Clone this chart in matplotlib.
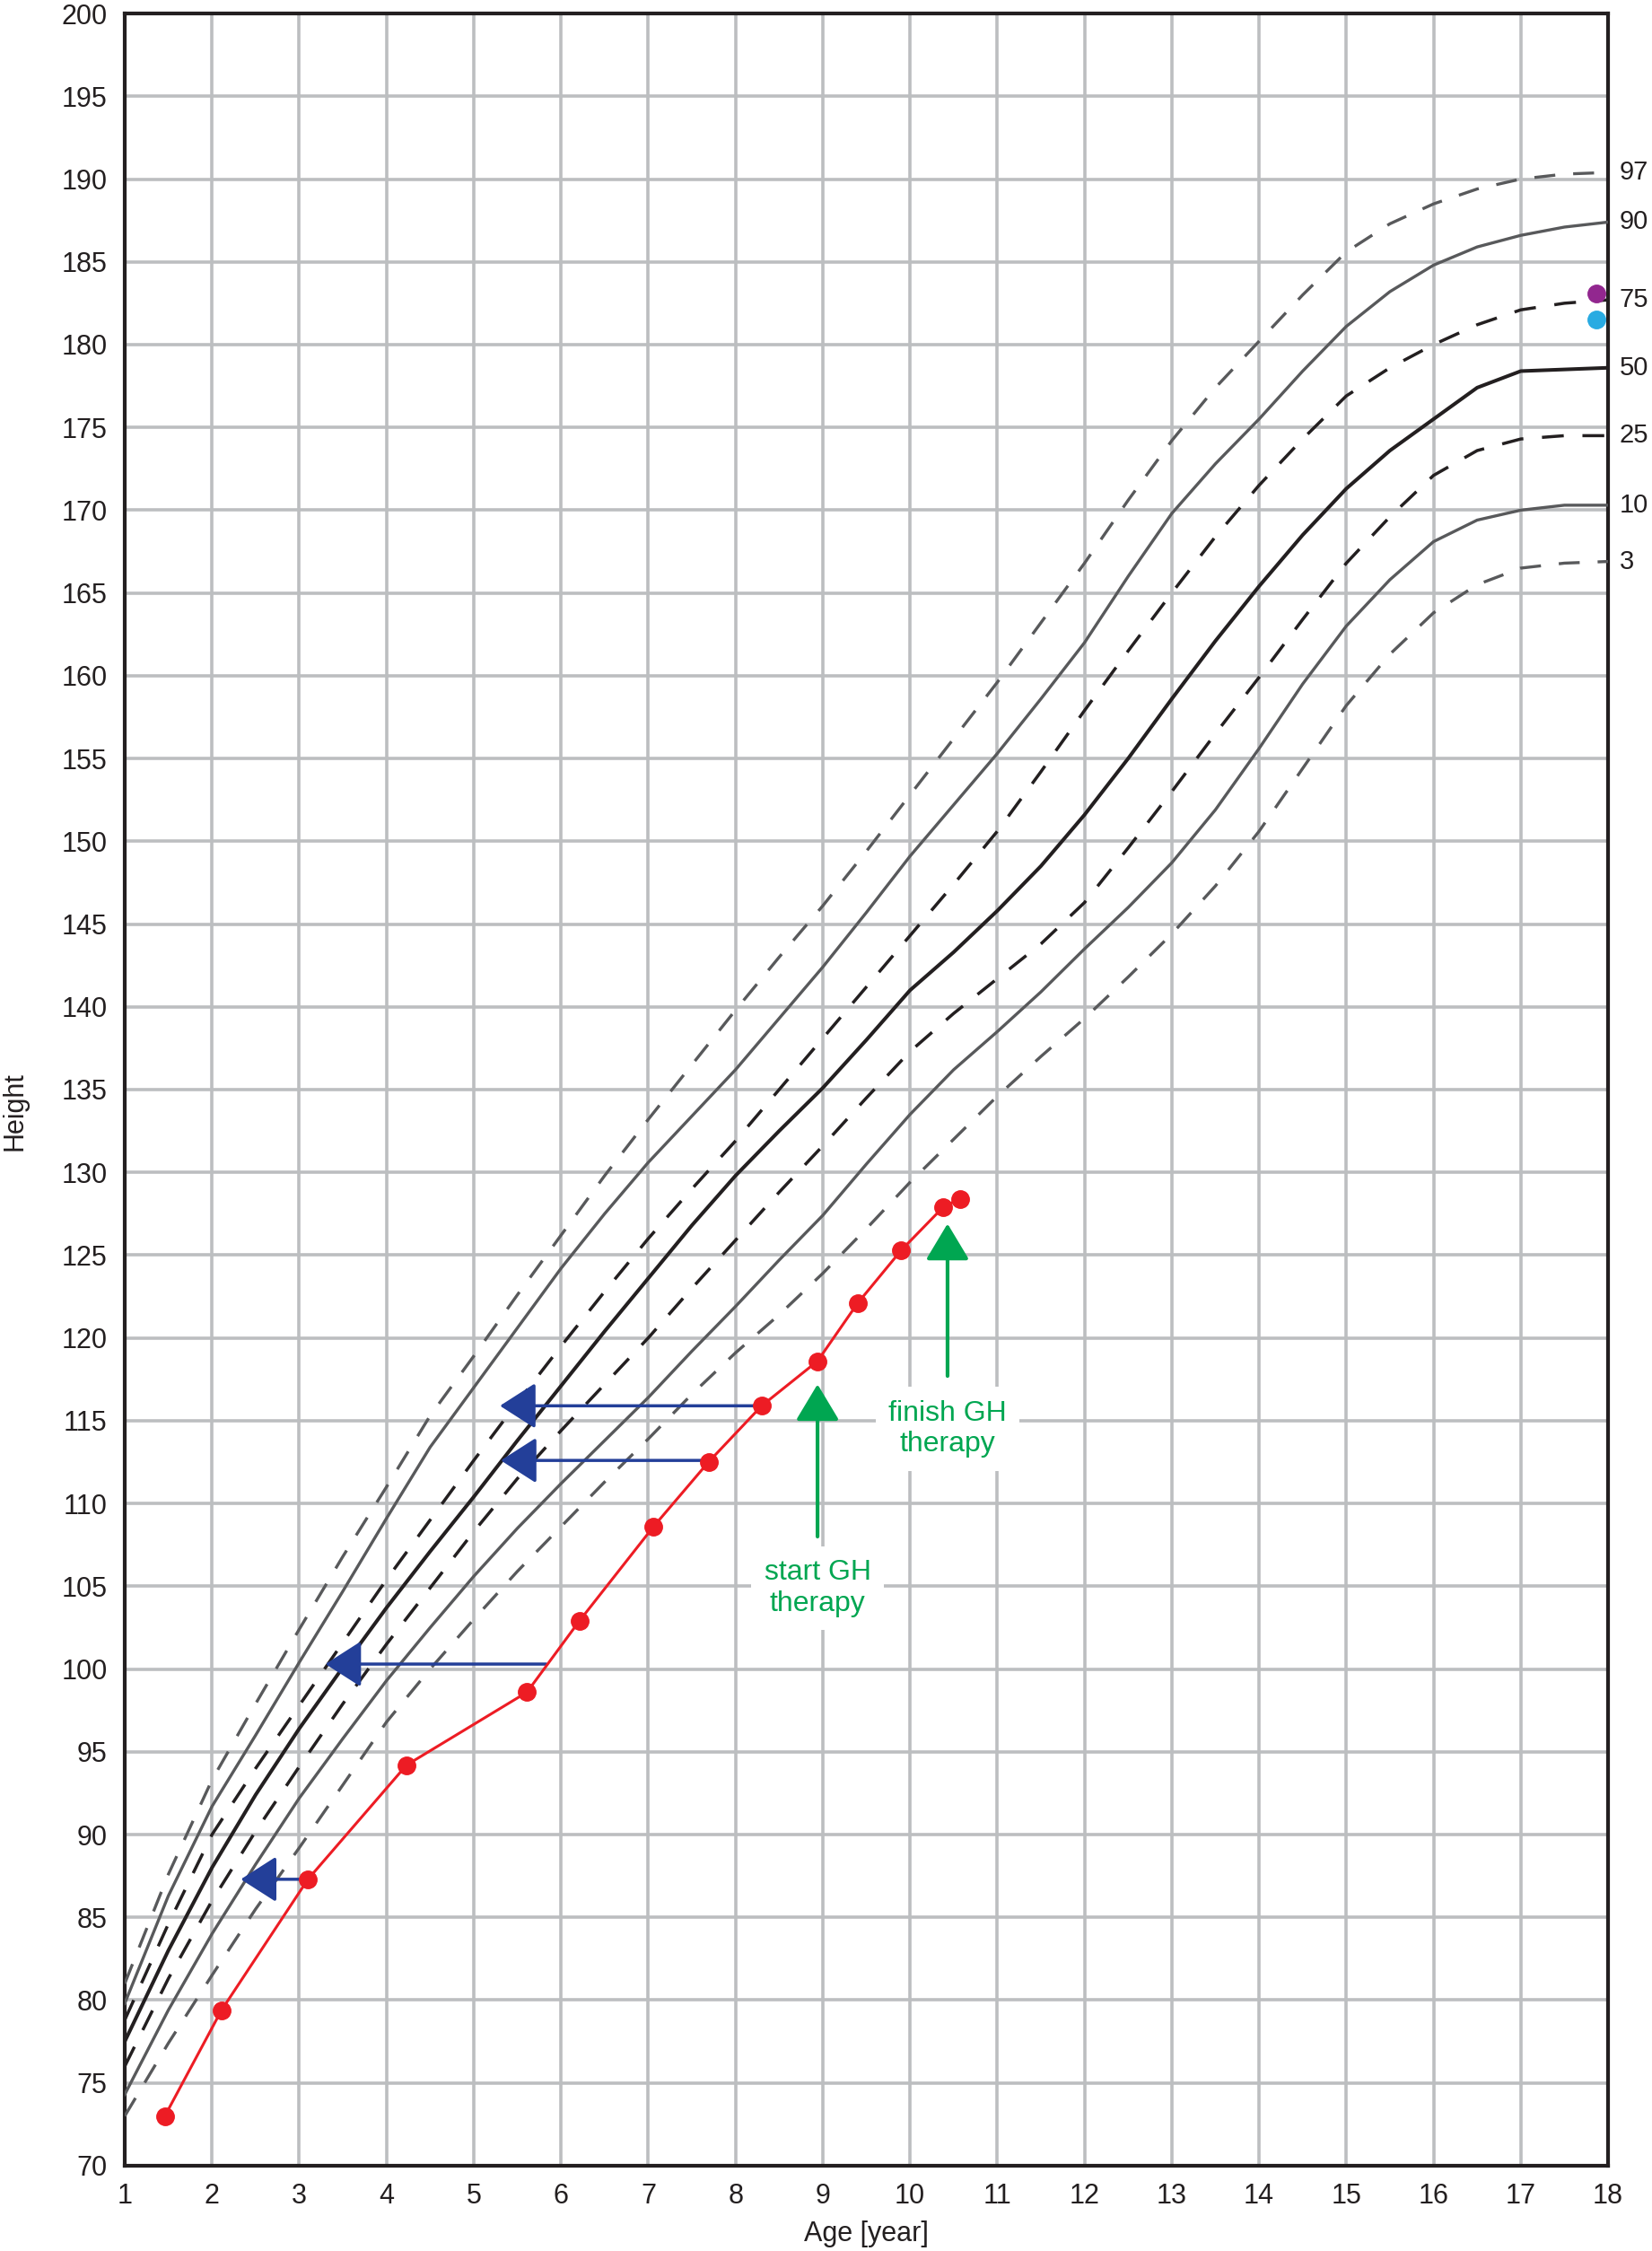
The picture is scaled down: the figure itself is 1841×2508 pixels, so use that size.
import matplotlib
matplotlib.use("Agg")
import matplotlib.pyplot as plt

plt.rcParams['font.family'] = ['Liberation Sans', 'DejaVu Sans']

# Percentile reference curves (age in years, height in cm)
ages = [1, 1.5, 2, 2.5, 3, 3.5, 4, 4.5, 5, 5.5, 6, 6.5, 7, 7.5, 8, 8.5, 9, 9.5,
        10, 10.5, 11, 11.5, 12, 12.5, 13, 13.5, 14, 14.5, 15, 15.5, 16, 16.5,
        17, 17.5, 18]

p97 = [81.0, 87.6, 93.3, 97.9, 102.4, 106.8, 111.0, 115.3, 118.9, 122.6, 126.2,
       129.8, 133.2, 136.5, 139.8, 143.0, 146.1, 149.4, 152.8, 156.2, 159.6,
       163.2, 166.8, 170.6, 174.2, 177.4, 180.2, 183.0, 185.6, 187.3, 188.5,
       189.4, 190.0, 190.3, 190.4]
p90 = [79.8, 86.3, 91.7, 96.0, 100.4, 104.7, 109.1, 113.4, 117.0, 120.6, 124.2,
       127.5, 130.6, 133.4, 136.2, 139.3, 142.4, 145.7, 149.1, 152.2, 155.3,
       158.6, 162.0, 166.0, 169.8, 172.8, 175.5, 178.4, 181.1, 183.2, 184.8,
       185.9, 186.6, 187.1, 187.4]
p75 = [78.8, 84.6, 90.0, 94.0, 97.8, 101.6, 105.4, 109.0, 112.6, 116.1, 119.5,
       122.8, 126.0, 129.0, 131.9, 135.0, 138.1, 141.2, 144.3, 147.4, 150.6,
       154.2, 157.9, 161.5, 165.0, 168.4, 171.5, 174.3, 176.9, 178.6, 180.0,
       181.2, 182.1, 182.5, 182.7]
p50 = [77.5, 83.0, 88.0, 92.4, 96.4, 100.1, 103.7, 107.1, 110.4, 113.8, 117.1,
       120.4, 123.6, 126.8, 129.8, 132.5, 135.1, 138.0, 141.0, 143.3, 145.8,
       148.5, 151.6, 155.0, 158.6, 162.1, 165.4, 168.5, 171.3, 173.6, 175.5,
       177.4, 178.4, 178.5, 178.6]
p25 = [76.0, 81.3, 86.0, 90.2, 94.1, 97.9, 101.5, 104.9, 108.3, 111.5, 114.4,
       117.2, 120.0, 123.0, 125.9, 128.8, 131.6, 134.5, 137.3, 139.6, 141.7,
       143.8, 146.3, 149.6, 153.0, 156.5, 159.9, 163.4, 166.8, 169.6, 172.1,
       173.6, 174.3, 174.5, 174.5]
p10 = [74.3, 79.4, 84.0, 88.2, 92.2, 95.8, 99.3, 102.5, 105.6, 108.5, 111.2,
       113.8, 116.4, 119.2, 121.9, 124.7, 127.4, 130.5, 133.5, 136.2, 138.5,
       140.9, 143.5, 146.0, 148.7, 151.9, 155.6, 159.5, 163.0, 165.8, 168.1,
       169.4, 170.0, 170.3, 170.3]
p3 = [73.0, 77.4, 81.5, 85.5, 89.2, 93.0, 96.8, 100.0, 103.0, 105.9, 108.6,
      111.3, 113.9, 116.6, 119.1, 121.4, 123.9, 126.6, 129.4, 132.0, 134.6,
      137.0, 139.3, 141.8, 144.4, 147.3, 150.6, 154.4, 158.2, 161.3, 163.8,
      165.5, 166.5, 166.8, 166.9]

percentile_labels = ["97", "90", "75", "50", "25", "10", "3"]

# Patient measurements
patient_age = [1.46, 2.11, 3.10, 4.23, 5.61, 6.21, 7.06, 7.69, 8.30, 8.94,
               9.40, 9.90, 10.38, 10.57]
patient_height = [73.0, 79.4, 87.3, 94.2, 98.6, 102.9, 108.6, 112.5, 115.9,
                  118.6, 122.1, 125.3, 127.9, 128.4]

# Height-age arrows: from age, to age, height
arrow_from = [3.10, 5.83, 7.69, 8.30]
arrow_to = [2.33, 3.30, 5.31, 5.30]
arrow_height = [87.3, 100.3, 112.6, 115.9]

# Target height dots near age 18
target_age = [17.87, 17.87]
target_height = [183.1, 181.5]

grey = "#58595b"
black = "#231f20"

fig = plt.figure(figsize=(18.41, 25.08), dpi=100)
ax = fig.add_axes([0.0755, 0.0379, 0.8979, 0.9561])

ax.set_xlim(1, 18)
ax.set_ylim(70, 200)
ax.set_xticks(range(1, 19))
ax.set_yticks(range(70, 201, 5))
ax.grid(True, color="#bcbec0", lw=2.6)
ax.set_axisbelow(True)
ax.tick_params(length=0, labelsize=22, colors=black, pad=14)
for s in ax.spines.values():
    s.set_linewidth(3.0)
    s.set_color(black)

curves = [p97, p90, p75, p50, p25, p10, p3]
colors = [grey, grey, black, black, black, grey, grey]
dashed = [True, False, True, False, True, False, True]
widths = [2.4, 2.4, 2.5, 2.9, 2.5, 2.4, 2.4]
for vals, c, d, w, lab in zip(curves, colors, dashed, widths, percentile_labels):
    line, = ax.plot(ages, vals, color=c, lw=w, zorder=3)
    if d:
        line.set_dashes((7, 6))
    ax.annotate(lab, xy=(ages[-1], vals[-1]), xytext=(9, 0),
                textcoords="offset points", ha="left", va="center",
                fontsize=21, color=black, annotation_clip=False)

# blue arrows
for a0, a1, h in zip(arrow_from, arrow_to, arrow_height):
    ax.annotate("", xy=(a1, h), xytext=(a0, h),
                arrowprops=dict(arrowstyle="-|>,head_length=25,head_width=16",
                                mutation_scale=1, lw=2.5, color="#233f99",
                                shrinkA=0, shrinkB=0), zorder=4)

# patient curve
ax.plot(patient_age, patient_height, color="#ed1c24", lw=2.2, marker="o",
        ms=14, zorder=5)

# target dots
ax.plot(target_age[0], target_height[0], "o", color="#92278f", ms=14, zorder=5,
        clip_on=False)
ax.plot(target_age[1], target_height[1], "o", color="#29abe2", ms=14, zorder=5,
        clip_on=False)

# GH therapy markers
green = "#00a651"
ax.annotate("", xy=(8.94, 117.2), xytext=(8.94, 108.0),
            arrowprops=dict(arrowstyle="-|>,head_length=25,head_width=15",
                            mutation_scale=1, lw=3, color=green,
                            shrinkA=0, shrinkB=0), zorder=4)
ax.annotate("", xy=(10.43, 126.9), xytext=(10.43, 117.7),
            arrowprops=dict(arrowstyle="-|>,head_length=25,head_width=15",
                            mutation_scale=1, lw=3, color=green,
                            shrinkA=0, shrinkB=0), zorder=4)
box = dict(boxstyle="square,pad=0.45", fc="white", ec="none")
ax.text(8.94, 104.9, "start GH\ntherapy", ha="center", va="center",
        fontsize=23, color=green, linespacing=1.2, bbox=box, zorder=4)
ax.text(10.43, 114.5, "finish GH\ntherapy", ha="center", va="center",
        fontsize=23, color=green, linespacing=1.2, bbox=box, zorder=4)

ax.set_xlabel("Age [year]", fontsize=22, color=black, labelpad=8)
ax.set_ylabel("Height", fontsize=22, color=black)
ax.yaxis.set_label_coords(-0.065, 0.49)

fig.savefig("out.png", dpi=100)
